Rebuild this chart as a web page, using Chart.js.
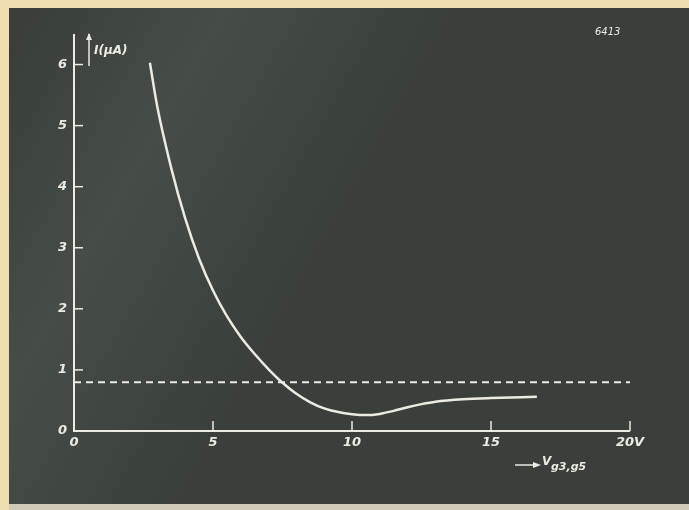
<!DOCTYPE html>
<html lang="en">
<head>
    <meta charset="UTF-8">
    <title>I versus Vg3,g5</title>
    <script src="https://cdn.jsdelivr.net/npm/chart.js"></script>
    <style>
        body {
            margin: 0;
            background: #3a3f3b;
        }
        canvas {
            display: block;
        }
    </style>
</head>
<body>
    <canvas id="curveChart" width="689" height="510"></canvas>

    <script>
        // values (x in volts, y in microamps)
        let voltage = [2.73, 3.0, 3.5, 4.0, 4.5, 5.0, 5.5, 6.0, 6.5, 7.0, 7.5, 8.0, 8.5, 9.0, 9.5, 10.0, 10.5, 11.0, 11.5, 12.0, 12.5, 13.0, 14.0, 15.0, 16.65];
        let current = [6.03, 5.3, 4.3, 3.48, 2.82, 2.3, 1.88, 1.54, 1.26, 1.01, 0.79, 0.61, 0.47, 0.37, 0.31, 0.275, 0.26, 0.28, 0.33, 0.39, 0.44, 0.48, 0.52, 0.54, 0.56];
        let dashedLevel = 0.8;
        let xTicks = [0, 5, 10, 15, 20];
        let xTickLabels = ['0', '5', '10', '15', '20V'];
        let yTicks = [0, 1, 2, 3, 4, 5, 6];

        let ink = '#ecebe2';
        let labelFont = { family: 'DejaVu Sans', size: 13, style: 'italic', weight: 'bold' };

        let backdrop = {
            id: 'backdrop',
            beforeDraw(chart) {
                let c = chart.ctx;
                c.save();
                c.fillStyle = '#3a3f3b';
                c.fillRect(0, 0, 689, 510);
                let g = c.createLinearGradient(40, 0, 360, 180);
                g.addColorStop(0, 'rgba(80,88,84,0)');
                g.addColorStop(0.45, 'rgba(82,90,86,0.5)');
                g.addColorStop(1, 'rgba(80,88,84,0)');
                c.fillStyle = g;
                c.fillRect(0, 0, 689, 510);
                // paper edges of the scan
                c.fillStyle = '#efdcae';
                c.fillRect(0, 0, 689, 8);
                c.fillRect(0, 0, 9, 510);
                c.fillStyle = '#cfcbb8';
                c.fillRect(9, 504, 680, 6);
                c.restore();
            }
        };

        let axesDeco = {
            id: 'axesDeco',
            afterDraw(chart) {
                let c = chart.ctx;
                let xs = chart.scales.x;
                let ys = chart.scales.y;
                let x0 = xs.getPixelForValue(0);
                let y0 = ys.getPixelForValue(0);
                c.save();
                c.strokeStyle = ink;
                c.fillStyle = ink;
                c.lineWidth = 2;
                // axis lines
                c.beginPath();
                c.moveTo(x0, ys.getPixelForValue(6.5));
                c.lineTo(x0, y0);
                c.lineTo(xs.getPixelForValue(20), y0);
                c.stroke();
                // inward ticks
                c.lineWidth = 1.5;
                yTicks.slice(1).forEach(v => {
                    let py = ys.getPixelForValue(v);
                    c.beginPath();
                    c.moveTo(x0, py);
                    c.lineTo(x0 + 9, py);
                    c.stroke();
                });
                xTicks.slice(1).forEach(v => {
                    let px = xs.getPixelForValue(v);
                    c.beginPath();
                    c.moveTo(px, y0);
                    c.lineTo(px, y0 - 10);
                    c.stroke();
                });
                // y axis title with arrow
                c.beginPath();
                c.moveTo(89, 66);
                c.lineTo(89, 34);
                c.stroke();
                c.beginPath();
                c.moveTo(86, 40);
                c.lineTo(89, 33);
                c.lineTo(92, 40);
                c.fill();
                c.font = 'italic bold 12px "DejaVu Sans"';
                c.textBaseline = 'middle';
                c.fillText('I(μA)', 94, 51);
                // x axis title with arrow
                c.beginPath();
                c.moveTo(515, 465);
                c.lineTo(538, 465);
                c.stroke();
                c.beginPath();
                c.moveTo(533, 462);
                c.lineTo(541, 465);
                c.lineTo(533, 468);
                c.fill();
                c.font = 'italic bold 12px "DejaVu Sans"';
                c.fillText('V', 542, 462);
                c.font = 'italic bold 11px "DejaVu Sans"';
                c.fillText('g3,g5', 551, 467);
                // figure number
                c.font = 'italic 10px "DejaVu Sans"';
                c.fillText('6413', 595, 32);
                c.restore();
            }
        };

        let ctx = document.getElementById('curveChart').getContext('2d');

        let chart = new Chart(ctx, {
            type: 'scatter',
            data: {
                datasets: [{
                    label: 'I',
                    data: voltage.map((v, i) => ({ x: v, y: current[i] })),
                    showLine: true,
                    borderColor: ink,
                    borderWidth: 2.5,
                    pointRadius: 0,
                    cubicInterpolationMode: 'monotone'
                }, {
                    label: 'level',
                    data: [{ x: 0, y: dashedLevel }, { x: 20, y: dashedLevel }],
                    showLine: true,
                    borderColor: ink,
                    borderWidth: 2,
                    borderDash: [7, 5],
                    pointRadius: 0
                }]
            },
            options: {
                responsive: false,
                animation: false,
                layout: { padding: { left: 10, top: 34, right: 59, bottom: 10 } },
                plugins: {
                    legend: { display: false },
                    tooltip: { enabled: false }
                },
                scales: {
                    x: {
                        type: 'linear',
                        min: 0,
                        max: 20,
                        afterBuildTicks: s => { s.ticks = xTicks.map(v => ({ value: v })); },
                        afterFit: s => { s.height = 69; },
                        grid: { display: false, drawTicks: false },
                        border: { display: false },
                        ticks: {
                            color: ink,
                            font: labelFont,
                            padding: 4,
                            callback: (v, i) => xTickLabels[i]
                        }
                    },
                    y: {
                        type: 'linear',
                        min: 0,
                        max: 6.5,
                        afterBuildTicks: s => { s.ticks = yTicks.map(v => ({ value: v })); },
                        afterFit: s => { s.width = 64; },
                        grid: { display: false, drawTicks: false },
                        border: { display: false },
                        ticks: {
                            color: ink,
                            font: labelFont,
                            padding: 7
                        }
                    }
                }
            },
            plugins: [backdrop, axesDeco]
        });
    </script>
</body>
</html>
